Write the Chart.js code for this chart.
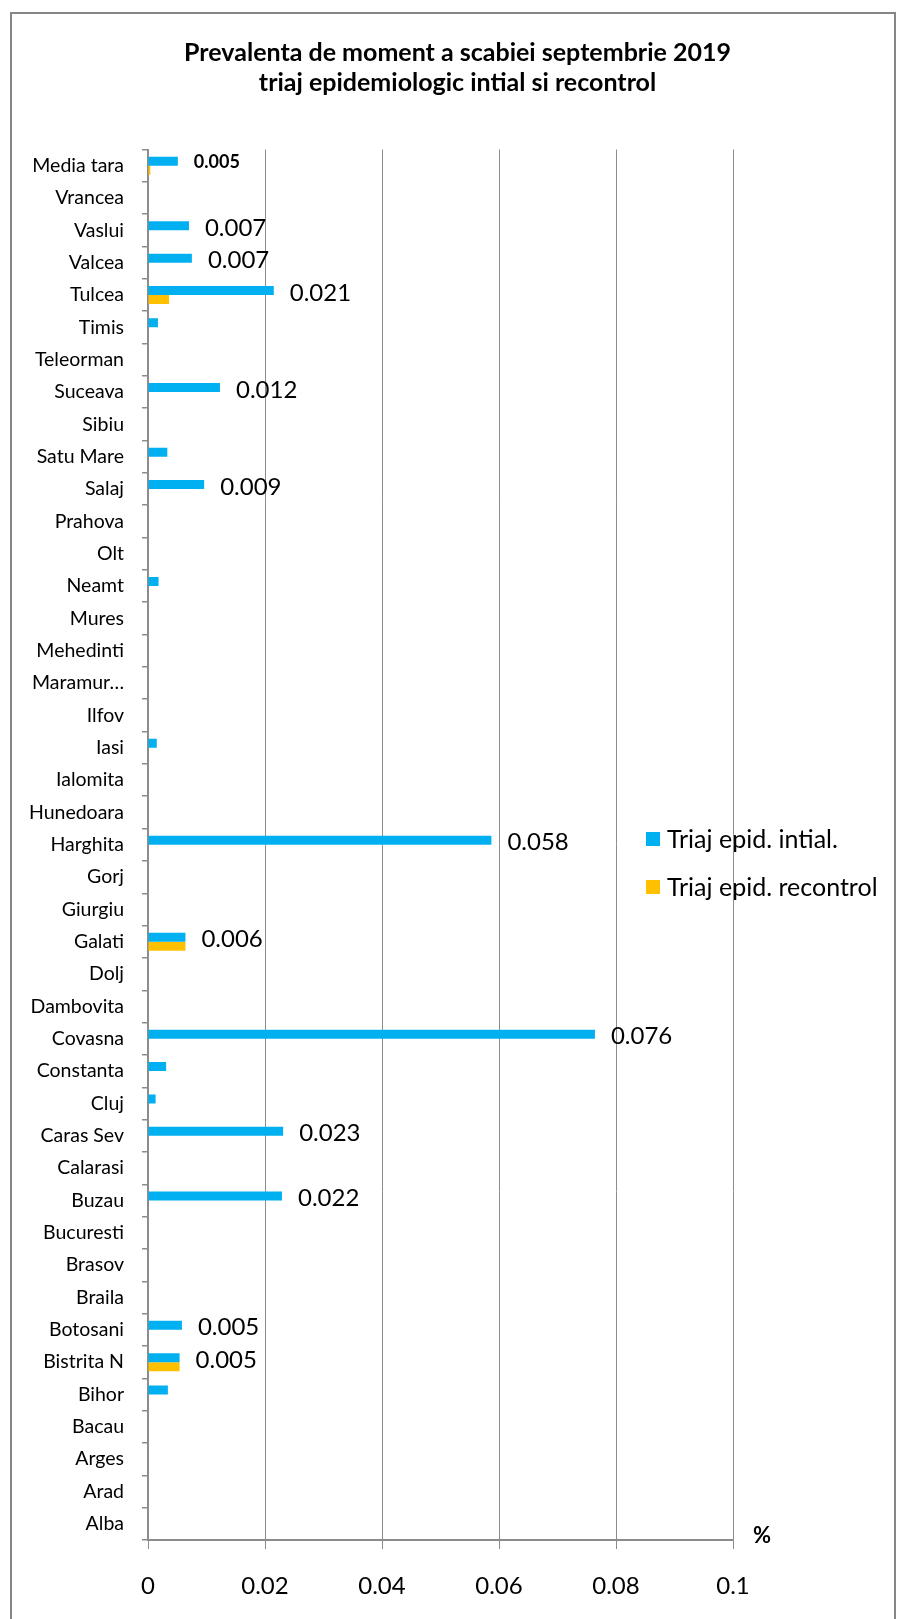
<!DOCTYPE html>
<html>
<head>
<meta charset="utf-8">
<script src="https://cdn.jsdelivr.net/npm/chart.js@4.4.1/dist/chart.umd.min.js"></script>
<style>
  html, body { margin: 0; padding: 0; background: #fff; }
  #wrap { width: 897px; height: 1619px; position: relative; }
</style>
</head>
<body>
<div id="wrap"><canvas id="c" width="897" height="1619"></canvas></div>
<script>
const titleLines = ['Prevalenta de moment a scabiei septembrie 2019', 'triaj epidemiologic intial si recontrol'];
const categories = ['Media tara','Vrancea','Vaslui','Valcea','Tulcea','Timis','Teleorman','Suceava','Sibiu','Satu Mare','Salaj','Prahova','Olt','Neamt','Mures','Mehedinti','Maramur…','Ilfov','Iasi','Ialomita','Hunedoara','Harghita','Gorj','Giurgiu','Galati','Dolj','Dambovita','Covasna','Constanta','Cluj','Caras Sev','Calarasi','Buzau','Bucuresti','Brasov','Braila','Botosani','Bistrita N','Bihor','Bacau','Arges','Arad','Alba'];
const initialValues = [0.0051,0,0.0070,0.0075,0.0215,0.0017,0,0.0123,0,0.0033,0.0096,0,0,0.0018,0,0,0,0,0.0015,0,0,0.0587,0,0,0.0064,0,0,0.0764,0.0031,0.0013,0.0231,0,0.0229,0,0,0,0.0058,0.0054,0.0034,0,0,0,0];
const recontrolValues = [0.0004,0,0,0,0.0036,0,0,0,0,0,0,0,0,0,0,0,0,0,0,0,0,0,0,0,0.0064,0,0,0,0,0,0,0,0,0,0,0,0,0.0054,0,0,0,0,0];
const valueLabels = ['0.005','','0.007','0.007','0.021','','','0.012','','','0.009','','','','','','','','','','','0.058','','','0.006','','','0.076','','','0.023','','0.022','','','','0.005','0.005','','','','',''];
const seriesNames = ['Triaj epid. intial.', 'Triaj epid. recontrol'];
const xTickLabels = ['0','0.02','0.04','0.06','0.08','0.1'];
const unitLabel = '%';

const FONT = 'Lato, "Open Sans", sans-serif';
const GRID = '#8c8c8c';

const framePlugin = {
  id: 'frame',
  beforeDraw(chart) {
    const ctx = chart.ctx;
    ctx.save();
    ctx.fillStyle = '#fff';
    ctx.fillRect(0, 0, chart.width, chart.height);
    ctx.strokeStyle = '#868686';
    ctx.lineWidth = 2;
    ctx.beginPath();
    ctx.moveTo(11, chart.height + 2);
    ctx.lineTo(11, 13);
    ctx.lineTo(895, 13);
    ctx.lineTo(895, chart.height + 2);
    ctx.stroke();
    ctx.fillStyle = '#000';
    ctx.font = 'bold 25px ' + FONT;
    ctx.textAlign = 'center';
    ctx.textBaseline = 'alphabetic';
    ctx.fillText(titleLines[0], 457.5, 61);
    ctx.fillText(titleLines[1], 457.5, 91);
    ctx.restore();
  },
  afterDatasetsDraw(chart) {
    const ctx = chart.ctx;
    const xs = chart.scales.x;
    const meta = chart.getDatasetMeta(0);
    ctx.save();
    ctx.fillStyle = '#000';
    ctx.textAlign = 'left';
    ctx.textBaseline = 'alphabetic';
    valueLabels.forEach((t, i) => {
      if (!t) return;
      const bar = meta.data[i];
      const x = xs.getPixelForValue(initialValues[i]) + 16;
      if (i === 0) {
        ctx.font = 'bold 18px ' + FONT;
        ctx.fillText(t, x, bar.y + 7);
      } else {
        ctx.font = '24px ' + FONT;
        ctx.fillText(t, x, bar.y + 10);
      }
    });
    ctx.font = 'bold 22px ' + FONT;
    ctx.textAlign = 'center';
    ctx.fillText(unitLabel, 762, 1543);
    const ds = chart.data.datasets;
    const ly = [839, 887];
    ctx.font = '25px ' + FONT;
    ctx.textAlign = 'left';
    ctx.textBaseline = 'middle';
    ds.forEach((d, k) => {
      ctx.fillStyle = d.backgroundColor;
      ctx.fillRect(646, ly[k] - 7, 14, 14);
      ctx.fillStyle = '#000';
      ctx.fillText(d.label, 667, ly[k] + 1);
    });
    ctx.restore();
  }
};

new Chart(document.getElementById('c'), {
  type: 'bar',
  data: {
    labels: categories,
    datasets: [
      { label: seriesNames[0], data: initialValues, backgroundColor: '#00B0F0', borderWidth: 0, categoryPercentage: 0.557, barPercentage: 1.0 },
      { label: seriesNames[1], data: recontrolValues, backgroundColor: '#FFC000', borderWidth: 0, categoryPercentage: 0.557, barPercentage: 1.0 }
    ]
  },
  options: {
    indexAxis: 'y',
    responsive: false,
    animation: false,
    devicePixelRatio: 1,
    layout: { padding: { top: 149.5, right: 164, bottom: 0, left: 0 } },
    plugins: { legend: { display: false }, title: { display: false }, tooltip: { enabled: false } },
    scales: {
      x: {
        type: 'linear', min: 0, max: 0.1,
        afterFit(s) { s.height = 79; },
        ticks: { stepSize: 0.02, padding: 23, color: '#000', font: { family: FONT, size: 24 },
                 callback: (v, i) => xTickLabels[i] },
        grid: { color: GRID, lineWidth: 1, tickLength: 9, drawTicks: true },
        border: { color: GRID, width: 2 }
      },
      y: {
        type: 'category',
        afterFit(s) { s.width = 148; },
        ticks: { autoSkip: false, padding: 18, color: '#000', font: { family: FONT, size: 19.5 } },
        grid: { offset: true, drawOnChartArea: false, drawTicks: true, tickLength: 6, color: GRID, lineWidth: 1.5 },
        border: { color: GRID, width: 2 }
      }
    }
  },
  plugins: [framePlugin]
});
</script>
</body>
</html>
